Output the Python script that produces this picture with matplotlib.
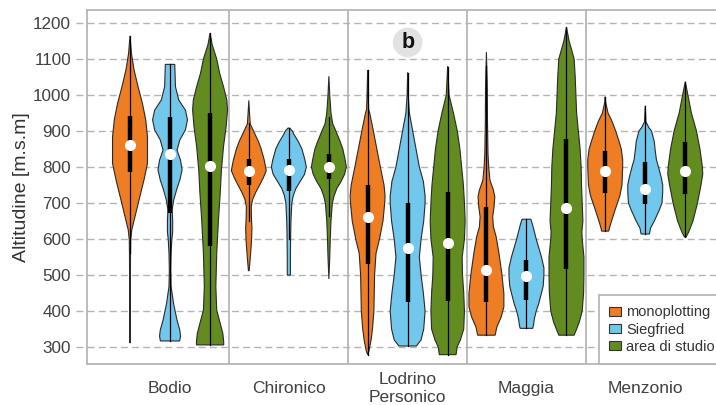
import numpy as np
import matplotlib.pyplot as plt
from matplotlib.patches import Patch

plt.rcParams['font.family'] = ['Liberation Sans', 'DejaVu Sans']

groups = ['Bodio', 'Chironico', 'Lodrino\nPersonico', 'Maggia', 'Menzonio']
series = ['monoplotting', 'Siegfried', 'area di studio']
colors = ['#ee7d24', '#72c7ec', '#628c20']

# violin outlines: (altitude, relative half width)
bodio_mono = [(1164, 0), (1116, .08), (1070, .23), (1023, .46), (977, .71), (931, .9), (884, 1), (850, 1),
              (810, 1), (764, .8), (717, .56), (671, .33), (625, .1), (597, .04), (560, .03), (450, .02), (311, 0)]
bodio_sieg = [(1085, .27), (1023, .31), (986, .5), (958, .88), (931, 1), (903, .88), (875, .56), (847, .4),
              (819, .6), (792, .69), (764, .56), (736, .37), (708, .21), (681, .12), (653, .15), (620, .15),
              (597, .1), (560, .06), (514, .04), (468, .06), (421, .2), (375, .4), (347, .56), (330, .6), (317, .55)]
bodio_area = [(1172, 0), (1140, .12), (1100, .38), (1060, .55), (1023, .77), (986, .96), (958, 1), (912, .92),
              (857, .77), (792, .65), (727, .58), (653, .48), (560, .38), (468, .33), (403, .38), (366, .58),
              (338, .73), (315, .78), (306, .78)]
chir_mono = [(985, 0), (950, .04), (920, .08), (900, .27), (870, .56), (850, .71), (820, .88), (800, .96),
             (790, 1), (770, .83), (750, .62), (730, .4), (710, .22), (690, .14), (660, .15), (630, .18),
             (600, .16), (570, .12), (540, .07), (512, .02)]
chir_sieg = [(908, .05), (900, .2), (890, .3), (870, .55), (850, .75), (820, .92), (800, 1), (780, .9),
             (760, .65), (740, .4), (720, .25), (700, .17), (650, .12), (600, .1), (550, .09), (500, .09)]
chir_area = [(1052, 0), (1000, .05), (950, .12), (920, .22), (900, .4), (870, .65), (850, .8), (820, .93),
             (800, 1), (780, .9), (760, .7), (740, .45), (720, .3), (700, .2), (650, .12), (600, .08),
             (550, .05), (489, 0)]
lodr_mono = [(1069, 0), (1000, .03), (960, .06), (950, .12), (900, .33), (850, .53), (800, .73), (750, .94),
             (720, 1), (700, .98), (650, .88), (600, .68), (560, .48), (500, .4), (450, .38), (400, .36),
             (350, .28), (320, .2), (290, .08), (279, 0)]
lodr_sieg = [(1062, 0), (1000, .03), (950, .1), (900, .29), (850, .48), (800, .67), (760, .9), (720, 1),
             (700, 1), (650, .92), (600, .77), (550, .67), (500, .77), (450, .9), (400, 1), (350, .92),
             (320, .77), (303, .5)]
lodr_area = [(1079, 0), (1050, .03), (1000, .08), (950, .33), (900, .55), (850, .7), (800, .8), (750, .9),
             (700, .96), (650, 1), (600, .96), (550, .83), (500, .85), (450, .92), (400, .96), (350, .92),
             (320, .73), (300, .54), (279, .48)]
magg_mono = [(1119, 0), (1023, .05), (931, .06), (838, .09), (801, .13), (764, .2), (736, .4), (718, .48),
             (690, .44), (662, .36), (634, .4), (606, .56), (560, .72), (505, .88), (449, 1), (412, 1),
             (384, .85), (356, .6), (333, .5)]
magg_sieg = [(655, .25), (640, .35), (600, .56), (550, .86), (520, 1), (500, 1), (470, .96), (450, .86),
             (420, .7), (400, .56), (380, .46), (360, .4), (352, .36)]
magg_area = [(1188, 0), (1150, .15), (1100, .44), (1050, .5), (1000, .54), (950, .58), (900, .68), (850, .78),
             (800, .84), (750, .86), (700, .9), (650, .94), (620, .88), (600, .9), (550, 1), (500, 1),
             (450, .98), (400, .9), (370, .74), (350, .58), (333, .44)]
menz_mono = [(995, 0), (979, .03), (950, .16), (926, .4), (900, .6), (870, .8), (850, .92), (820, 1),
             (800, 1), (750, .96), (720, .84), (700, .7), (680, .56), (650, .36), (630, .24), (622, .2)]
menz_sieg = [(970, 0), (926, .04), (910, .2), (900, .36), (870, .52), (850, .56), (820, .64), (800, .76),
             (770, .92), (750, 1), (730, 1), (700, .96), (680, .8), (650, .52), (630, .3), (614, .24)]
menz_area = [(1037, 0), (1000, .15), (950, .35), (900, .64), (850, .84), (800, .98), (780, 1), (750, .9),
             (700, .7), (650, .44), (620, .2), (606, .05)]

profiles = [
    [bodio_mono, chir_mono, lodr_mono, magg_mono, menz_mono],
    [bodio_sieg, chir_sieg, lodr_sieg, magg_sieg, menz_sieg],
    [bodio_area, chir_area, lodr_area, magg_area, menz_area],
]

# inner box: quartiles, median, whisker ends (per series, per group)
q1 = [[786, 750, 531, 426, 727], [671, 733, 426, 431, 698], [581, 768, 429, 516, 725]]
med = [[860, 790, 662, 514, 790], [837, 791, 576, 497, 740], [803, 800, 590, 685, 790]]
q3 = [[941, 821, 750, 688, 845], [939, 821, 701, 542, 815], [950, 836, 730, 877, 870]]
wlo = [[560, 650, 279, 333, 622], [317, 601, 303, 352, 614], [306, 663, 279, 333, 606]]
whi = [[1164, 921, 1069, 1081, 995], [1085, 908, 1062, 655, 970], [1172, 939, 1079, 1188, 1037]]

yticks = list(range(300, 1201, 100))

fig = plt.figure(figsize=(7.16, 4.05), dpi=100)
# frame runs a little past the right edge of the picture
ax = fig.add_axes([87 / 716, 41 / 405, 638 / 716, 354 / 405])

offsets = [-0.337, 0, 0.337]
half = 0.147
grid_c = '#b5b5b5'

for v in yticks:
    ax.plot([-0.0173, 1], [v, v], transform=ax.get_yaxis_transform(), clip_on=False,
            ls=(0, (5, 3)), color=grid_c, lw=1, zorder=0)
for xs in [0.5, 1.5, 2.5, 3.5]:
    ax.axvline(xs, color='#b0b0b0', lw=1.2, zorder=1)

for si in range(3):
    for gi in range(5):
        p = np.array(profiles[si][gi], dtype=float)
        y, w = p[:, 0], p[:, 1] * half
        xc = gi + offsets[si]
        ax.fill(np.r_[xc - w, (xc + w)[::-1]], np.r_[y, y[::-1]],
                fc=colors[si], ec='#2a2a2a', lw=0.8, zorder=2)
        ax.plot([xc, xc], [wlo[si][gi], whi[si][gi]], color='k', lw=0.9, zorder=3)
        ax.plot([xc, xc], [q1[si][gi], q3[si][gi]], color='k', lw=3.2,
                solid_capstyle='butt', zorder=3)
        ax.plot(xc, med[si][gi], 'o', color='white', ms=7, mec='white', zorder=4)

ax.set_xlim(-0.699, -0.699 + 638 / 118.8)
ax.set_ylim(253, 1236)
ax.set_yticks(yticks)
ax.set_xticks(range(5), groups)
ax.tick_params(axis='y', length=0, pad=11.5, labelsize=12.3, labelcolor='#404040')
ax.tick_params(axis='x', length=0, pad=17.5, labelsize=12.5, labelcolor='#404040')
for lab in ax.get_xticklabels():
    lab.set_va('center')
for s in ax.spines.values():
    s.set_color('#b0b0b0')
    s.set_linewidth(1.2)

ax.set_ylabel('Altitudine [m.s.m]', fontsize=14, color='#333333')
ax.yaxis.set_label_coords(-0.09, 0.5)

ax.text(2, 1146, 'b', ha='center', va='center', fontsize=15.5, fontweight='bold', color='#111111',
        bbox=dict(boxstyle='circle,pad=0.2', fc='#e2e2e2', ec='none'), zorder=5)

handles = [Patch(fc=c, ec='#333333', lw=0.8, label=s) for c, s in zip(colors, series)]
leg = ax.legend(handles=handles, loc='lower right', borderaxespad=0, fancybox=False,
                edgecolor='#b0b0b0', framealpha=1, fontsize=10.5, handlelength=0.8,
                handleheight=0.55, handletextpad=0.38, labelspacing=0.22, borderpad=0.7)
leg.get_frame().set_linewidth(1.2)
for t in leg.get_texts():
    t.set_color('#333333')

fig.savefig('out.png', dpi=100)
